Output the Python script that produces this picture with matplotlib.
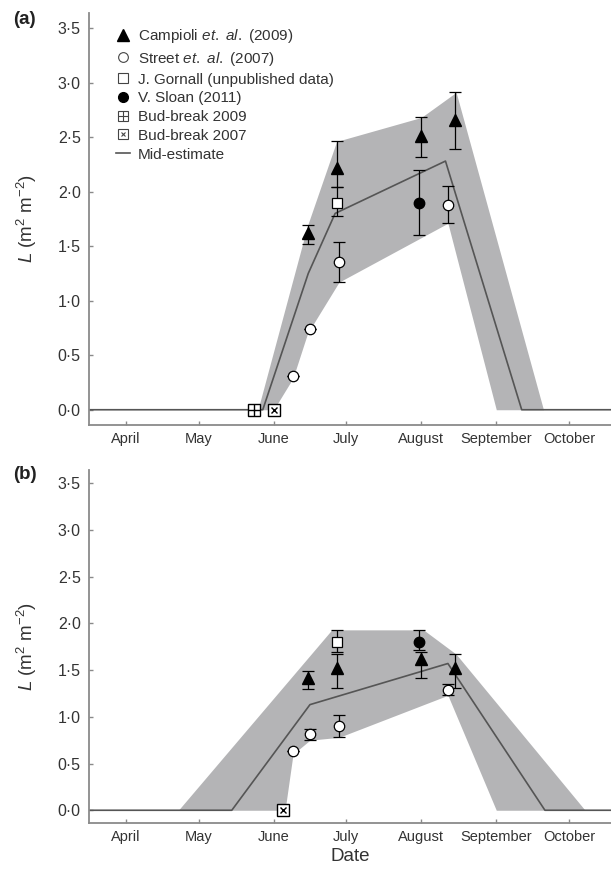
import matplotlib
matplotlib.use("Agg")
import matplotlib.pyplot as plt
from matplotlib.lines import Line2D
from matplotlib.legend_handler import HandlerTuple
import numpy as np

plt.rcParams['font.family'] = ['Liberation Sans', 'DejaVu Sans']
plt.rcParams['mathtext.fontset'] = 'custom'
plt.rcParams['mathtext.rm'] = 'Liberation Sans'
plt.rcParams['mathtext.it'] = 'Liberation Sans:italic'

# x positions are day of year
month_doy = [91, 121, 152, 182, 213, 244, 274]
month_names = ['April', 'May', 'June', 'July', 'August', 'September', 'October']
y_ticks = [0, 0.5, 1.0, 1.5, 2.0, 2.5, 3.0, 3.5]

# ---- panel (a) ----
a_camp_x = [166, 178, 213, 227]
a_camp_y = [1.62, 2.22, 2.51, 2.66]
a_camp_lo = [1.52, 2.04, 2.32, 2.39]
a_camp_hi = [1.69, 2.46, 2.68, 2.91]

a_street_x = [160, 167, 179, 224]
a_street_y = [0.31, 0.74, 1.35, 1.88]
a_street_lo = [0.31, 0.74, 1.17, 1.71]
a_street_hi = [0.31, 0.74, 1.54, 2.05]

a_gorn_x = [178]
a_gorn_y = [1.90]
a_gorn_lo = [1.78]
a_gorn_hi = [2.04]

a_sloan_x = [212]
a_sloan_y = [1.90]
a_sloan_lo = [1.60]
a_sloan_hi = [2.20]

a_bb2009 = 144
a_bb2007 = 152

a_mid_x = [70, 147.5, 166.3, 177.4, 223, 254.5, 300]
a_mid_y = [0, 0, 1.25, 1.80, 2.28, 0, 0]

a_up_x = [145.5, 166, 178, 213, 227.4, 263.5]
a_up_y = [0, 1.69, 2.46, 2.68, 2.91, 0]
a_low_x = [152, 160, 166, 179, 224, 244]
a_low_y = [0, 0.29, 0.70, 1.17, 1.71, 0]

# ---- panel (b) ----
b_camp_x = [166, 178, 213, 227]
b_camp_y = [1.41, 1.52, 1.62, 1.52]
b_camp_lo = [1.30, 1.31, 1.42, 1.31]
b_camp_hi = [1.49, 1.67, 1.69, 1.67]

b_street_x = [160, 167, 179, 224]
b_street_y = [0.63, 0.82, 0.90, 1.29]
b_street_lo = [0.63, 0.75, 0.78, 1.23]
b_street_hi = [0.63, 0.87, 1.02, 1.35]

b_gorn_x = [178]
b_gorn_y = [1.80]
b_gorn_lo = [1.69]
b_gorn_hi = [1.93]

b_sloan_x = [212]
b_sloan_y = [1.80]
b_sloan_lo = [1.71]
b_sloan_hi = [1.93]

b_bb2007 = 156

b_mid_x = [70, 134.7, 167, 224, 264.1, 300]
b_mid_y = [0, 0, 1.13, 1.57, 0, 0]

b_up_x = [112.6, 176, 213.9, 227.4, 280.7]
b_up_y = [0, 1.93, 1.93, 1.67, 0]
b_low_x = [156.7, 160, 167, 179, 224, 244]
b_low_y = [0, 0.60, 0.75, 0.78, 1.23, 0]

FILL = '#b4b4b6'
LINE = '#555555'
AXC = '#8a8a8a'
TXT = '#333333'


def yerr(y, lo, hi):
    y = np.array(y)
    return [y - np.array(lo), np.array(hi) - y]


def draw_panel(ax, d):
    grid = np.linspace(70, 300, 2301)
    up = np.interp(grid, d['up_x'], d['up_y'], left=0, right=0)
    low = np.interp(grid, d['low_x'], d['low_y'], left=0, right=0)
    ax.fill_between(grid, low, up, color=FILL, lw=0, zorder=1)
    ax.plot(d['mid_x'], d['mid_y'], color=LINE, lw=1.2, zorder=2)

    eb = dict(ecolor='black', elinewidth=0.9, capsize=4.5, capthick=0.9, ls='none', zorder=3)
    ax.errorbar(d['camp_x'], d['camp_y'], yerr=yerr(d['camp_y'], d['camp_lo'], d['camp_hi']),
                marker='^', ms=9, mfc='black', mec='black', **eb)
    ax.errorbar(d['street_x'], d['street_y'], yerr=yerr(d['street_y'], d['street_lo'], d['street_hi']),
                marker='o', ms=7.5, mfc='white', mec='black', mew=0.9, **eb)
    ax.errorbar(d['gorn_x'], d['gorn_y'], yerr=yerr(d['gorn_y'], d['gorn_lo'], d['gorn_hi']),
                marker='s', ms=7.5, mfc='white', mec='black', mew=0.9, **eb)
    ax.errorbar(d['sloan_x'], d['sloan_y'], yerr=yerr(d['sloan_y'], d['sloan_lo'], d['sloan_hi']),
                marker='o', ms=7.5, mfc='black', mec='black', **eb)

    if d.get('bb2009') is not None:
        ax.plot([d['bb2009']], [0], marker='s', ms=8.5, mfc='white', mec='black', mew=1.0, zorder=4)
        ax.plot([d['bb2009']], [0], marker='+', ms=8.5, mec='black', mew=1.0, zorder=5)
    ax.plot([d['bb2007']], [0], marker='s', ms=8.5, mfc='white', mec='black', mew=1.0, zorder=4)
    ax.plot([d['bb2007']], [0], marker='x', ms=4.5, mec='black', mew=1.0, zorder=5)

    ax.set_xlim(75.7, 291.4)
    ax.set_ylim(-0.14, 3.64)
    ax.set_xticks(month_doy)
    ax.set_xticklabels(month_names, fontsize=10.5, color=TXT)
    ax.set_yticks(y_ticks)
    ax.set_yticklabels([f'{v:.1f}'.replace('.', '\u00b7') for v in y_ticks], fontsize=11.5, color=TXT)
    for s in ['top', 'right']:
        ax.spines[s].set_visible(False)
    for s in ['left', 'bottom']:
        ax.spines[s].set_color(AXC)
        ax.spines[s].set_linewidth(1.3)
    ax.tick_params(axis='both', direction='in', length=3, color=AXC, width=1)
    ax.tick_params(axis='x', pad=5)
    ax.tick_params(axis='y', pad=6)
    ax.set_ylabel('$L$ (m$^2$ m$^{-2}$)', fontsize=13.5, color=TXT)
    ax.yaxis.set_label_coords(-0.095, 0.5)


fig = plt.figure(figsize=(6.11, 8.72), dpi=100)
ax_a = fig.add_axes([0.1457, 0.5126, 0.8543, 0.4728])
ax_b = fig.add_axes([0.1457, 0.0558, 0.8543, 0.4052])

draw_panel(ax_a, dict(camp_x=a_camp_x, camp_y=a_camp_y, camp_lo=a_camp_lo, camp_hi=a_camp_hi,
                      street_x=a_street_x, street_y=a_street_y, street_lo=a_street_lo, street_hi=a_street_hi,
                      gorn_x=a_gorn_x, gorn_y=a_gorn_y, gorn_lo=a_gorn_lo, gorn_hi=a_gorn_hi,
                      sloan_x=a_sloan_x, sloan_y=a_sloan_y, sloan_lo=a_sloan_lo, sloan_hi=a_sloan_hi,
                      bb2009=a_bb2009, bb2007=a_bb2007,
                      mid_x=a_mid_x, mid_y=a_mid_y, up_x=a_up_x, up_y=a_up_y, low_x=a_low_x, low_y=a_low_y))
draw_panel(ax_b, dict(camp_x=b_camp_x, camp_y=b_camp_y, camp_lo=b_camp_lo, camp_hi=b_camp_hi,
                      street_x=b_street_x, street_y=b_street_y, street_lo=b_street_lo, street_hi=b_street_hi,
                      gorn_x=b_gorn_x, gorn_y=b_gorn_y, gorn_lo=b_gorn_lo, gorn_hi=b_gorn_hi,
                      sloan_x=b_sloan_x, sloan_y=b_sloan_y, sloan_lo=b_sloan_lo, sloan_hi=b_sloan_hi,
                      bb2009=None, bb2007=b_bb2007,
                      mid_x=b_mid_x, mid_y=b_mid_y, up_x=b_up_x, up_y=b_up_y, low_x=b_low_x, low_y=b_low_y))
ax_b.set_xlabel('Date', fontsize=13.5, color=TXT, labelpad=3)

# legend in panel (a)
h_camp = Line2D([], [], ls='none', marker='^', ms=8, mfc='black', mec='black')
h_street = Line2D([], [], ls='none', marker='o', ms=7, mfc='white', mec='#444444', mew=0.8)
h_gorn = Line2D([], [], ls='none', marker='s', ms=7, mfc='white', mec='#444444', mew=0.8)
h_sloan = Line2D([], [], ls='none', marker='o', ms=7, mfc='black', mec='black')
h_bb9 = (Line2D([], [], ls='none', marker='s', ms=7, mfc='white', mec='#444444', mew=0.8),
         Line2D([], [], ls='none', marker='+', ms=7, mec='#444444', mew=0.8))
h_bb7 = (Line2D([], [], ls='none', marker='s', ms=7, mfc='white', mec='#444444', mew=0.8),
         Line2D([], [], ls='none', marker='x', ms=3.5, mec='#444444', mew=0.8))
h_mid = Line2D([], [], color=LINE, lw=1.2)
labels = [r'Campioli $\mathit{et.\ al.}$ (2009)', r'Street $\mathit{et.\ al.}$ (2007)',
          'J. Gornall (unpublished data)', 'V. Sloan (2011)', 'Bud-break 2009',
          'Bud-break 2007', 'Mid-estimate']
leg = ax_a.legend([h_camp, h_street, h_gorn, h_sloan, h_bb9, h_bb7, h_mid], labels,
                  handler_map={tuple: HandlerTuple(ndivide=1)},
                  loc='upper left', bbox_to_anchor=(0.04, 0.98), frameon=False,
                  fontsize=11, handlelength=0.9, handletextpad=0.55, labelspacing=0.31,
                  borderaxespad=0)
for t in leg.get_texts():
    t.set_color(TXT)

fig.text(0.022, 0.972, '(a)', fontsize=13.5, fontweight='bold', color='#222222')
fig.text(0.022, 0.451, '(b)', fontsize=13.5, fontweight='bold', color='#222222')

fig.savefig('out.png', dpi=100)
